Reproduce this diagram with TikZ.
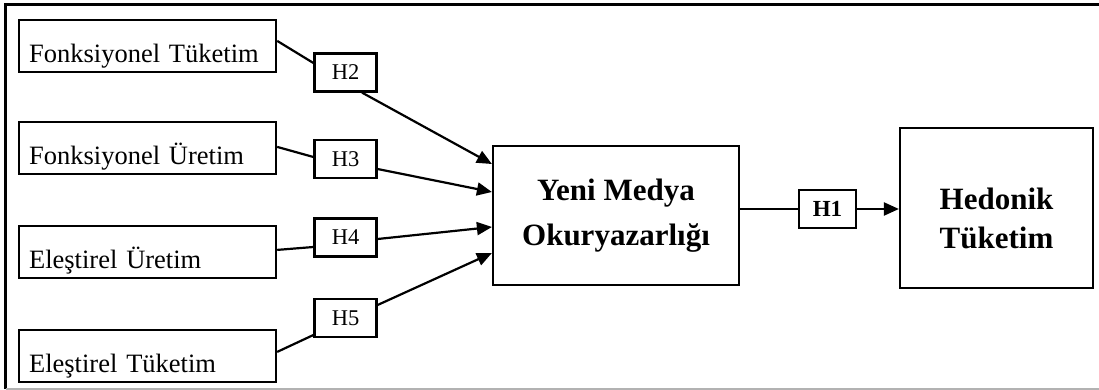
\documentclass[tikz,border=0pt]{standalone}
\usepackage{fontspec}
\setmainfont{Liberation Serif}
\usetikzlibrary{arrows.meta}
\begin{document}
\begin{tikzpicture}[x=1pt,y=-1pt,
  inbox/.style={draw, line width=2.2pt, anchor=south west, inner xsep=10pt, inner ysep=0pt,
    text width=237pt, align=left, text height=43pt, text depth=9pt,
    font=\fontsize{26.5}{30}\selectfont},
  hbox/.style={draw, line width=2.2pt, minimum width=62pt, minimum height=38pt, inner sep=0pt,
    font=\fontsize{22.5}{24}\selectfont},
  bigbox/.style={draw, line width=2.2pt, inner sep=0pt, align=center,
    font=\bfseries\fontsize{31}{45}\selectfont},
  bigtext/.style={inner sep=0pt, align=center, font=\bfseries\fontsize{31}{39}\selectfont},
  conn/.style={line width=2.2pt},
  arr/.style={conn, -{Triangle[length=15pt,width=13pt]}}]
\useasboundingbox (0,0) rectangle (1099,390);
% outer frame
\draw[line width=2.5pt] (5.5,389) -- (5.5,4.5) -- (1099,4.5);
\draw[black!30, line width=1.2pt] (5.5,389) -- (1099,389);
% left boxes
\node[inbox] (ft) at (18,73) {Fonksiyonel Tüketim};
\node[inbox] (fu) at (18,175) {Fonksiyonel Üretim};
\node[inbox] (eu) at (18,279) {Eleştirel Üretim};
\node[inbox] (et) at (18,383) {Eleştirel Tüketim};
% hypothesis boxes
\node[hbox] (h2) at (345.5,72.5) {H2};
\node[hbox] (h3) at (345.5,159) {H3};
\node[hbox] (h4) at (345.5,237.5) {H4};
\node[hbox] (h5) at (345.5,318) {H5};
% central and right boxes
\node[bigbox, minimum width=246pt, minimum height=139pt] (yeni) at (616,215.5) {Yeni Medya\\Okuryazarlığı};
\node[hbox, minimum width=57pt, font=\bfseries\fontsize{23}{25}\selectfont] (h1) at (827.5,209) {H1};
\node[draw, line width=2.2pt, minimum width=193pt, minimum height=160pt] (hed) at (996.5,208) {};
\node[bigtext] (hedtext) at (996.5,218) {Hedonik\\Tüketim};
% connectors
\draw[conn] ([yshift=5pt]ft.east) -- ([yshift=9.5pt]h2.west);
\draw[arr] ([xshift=16.5pt]h2.south) -- ([yshift=51.5pt]yeni.west);
\draw[conn] ([yshift=1pt]fu.east) -- ([yshift=2pt]h3.west);
\draw[arr] ([yshift=-10pt]h3.east) -- ([yshift=23.5pt]yeni.west);
\draw[conn] ([yshift=2pt]eu.east) -- ([yshift=-9.5pt]h4.west);
\draw[arr] ([yshift=-1.5pt]h4.east) -- ([yshift=-11.5pt]yeni.west);
\draw[conn] ([yshift=4pt]et.east) -- ([yshift=-17pt]h5.west);
\draw[arr] ([yshift=13pt]h5.east) -- ([yshift=-37.5pt]yeni.west);
\draw[conn] ([yshift=6.5pt]yeni.east) -- (h1.west);
\draw[arr] (h1.east) -- (h1.east -| hed.west);
\end{tikzpicture}
\end{document}
